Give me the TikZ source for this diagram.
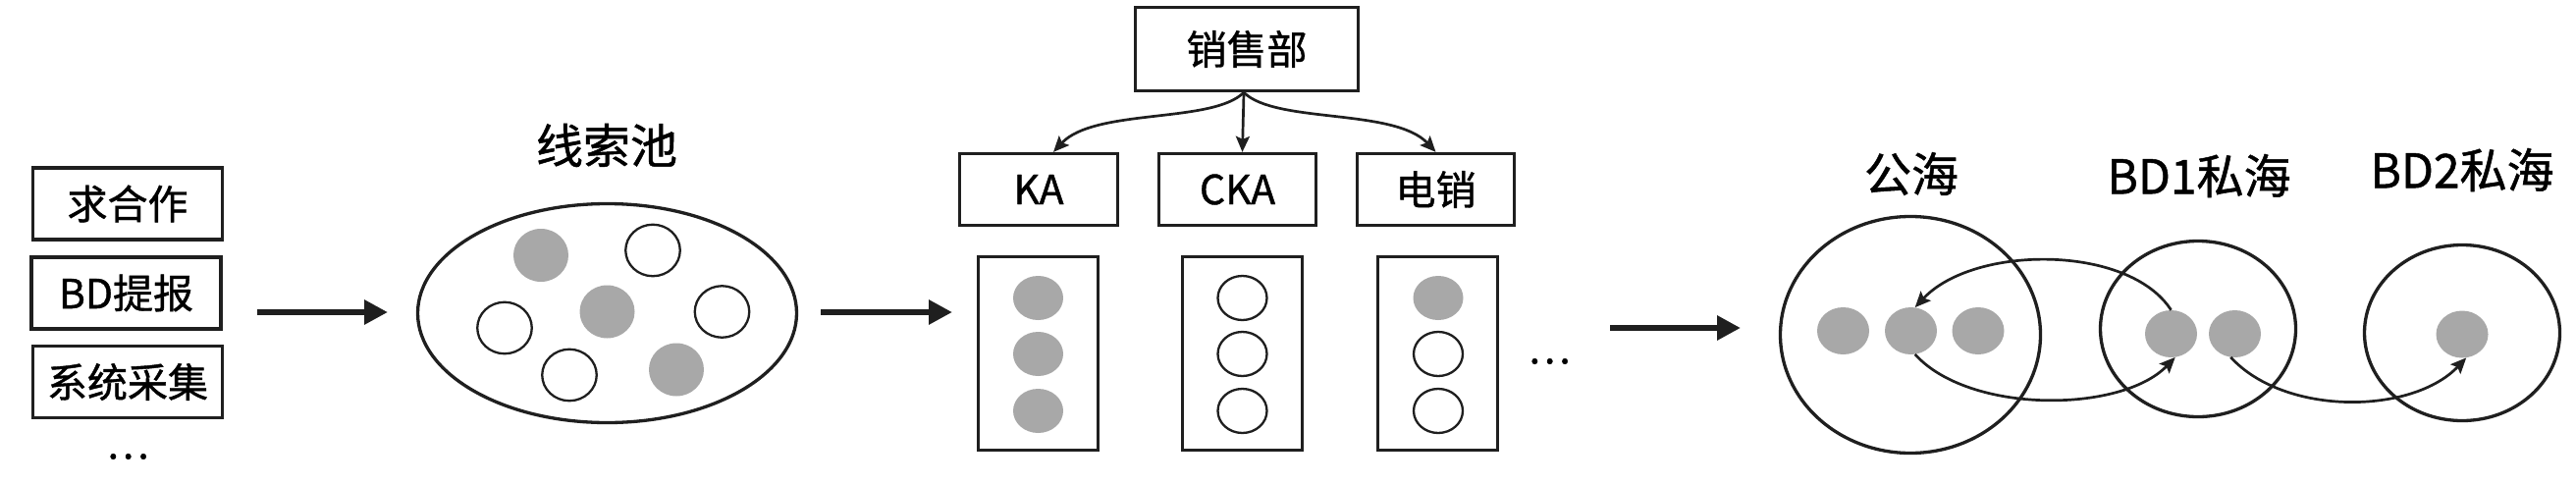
\documentclass[tikz,border=0pt]{standalone}
\usepackage{fontspec}
\setmainfont{Noto Sans CJK SC}[FakeBold=1.0]
\usetikzlibrary{arrows.meta,shapes.geometric}
\definecolor{ln}{HTML}{1F1F1F}
\definecolor{dotg}{HTML}{A8A8A8}
\begin{document}
\begin{tikzpicture}[x=1pt,y=-1pt,
  txt/.style={font=\fontsize{41}{48}\selectfont, inner sep=0pt},
  hdr/.style={font=\fontsize{48}{56}\selectfont, inner sep=0pt},
  srcbox/.style={draw=ln, line width=3.3pt, minimum width=193pt, minimum height=73pt, inner sep=0pt, font=\fontsize{41}{48}\selectfont},
  colbox/.style={draw=ln, line width=3.3pt, minimum width=122pt, minimum height=197pt, inner sep=0pt},
  pgray/.style={ellipse, fill=dotg, minimum width=56pt, minimum height=54pt, inner sep=0pt},
  pwhite/.style={ellipse, draw=ln, line width=2.3pt, minimum width=55.5pt, minimum height=52.5pt, inner sep=0pt},
  cgray/.style={ellipse, fill=dotg, minimum width=51pt, minimum height=45pt, inner sep=0pt},
  cwhite/.style={ellipse, draw=ln, line width=2.3pt, minimum width=50pt, minimum height=45pt, inner sep=0pt},
  sdot/.style={ellipse, fill=dotg, minimum width=53pt, minimum height=48pt, inner sep=0pt},
  sea/.style={ellipse, draw=ln, line width=3.3pt, inner sep=0pt},
  bigarrow/.style={draw=ln, line width=6.5pt, -{Triangle[length=24pt,width=24pt]}},
  thinarrow/.style={draw=ln, line width=2.7pt, -{Stealth[length=16pt,width=14pt,inset=3pt]}}
]
\fill[white] (0,0) rectangle (2624,493);
\useasboundingbox (0,0) rectangle (2624,493);

% sources
\node[srcbox] (s1) at (130,207.5) {求合作};
\node[srcbox] (s2) at (128.5,298.5) {BD提报};
\node[srcbox] (s3) at (130,389) {系统采集};
\node[txt] (d1) at (130,465) {…};

\coordinate (a1s) at (262,318);
\coordinate (a1e) at (395,318);
\draw[bigarrow] (a1s) -- (a1e);

% pool
\node[hdr] (pooll) at (618,148) {线索池};
\node[sea, minimum width=386pt, minimum height=223pt] (pool) at (618.5,319) {};
\node[pgray] (p1) at (551,260) {};
\node[pwhite] (p2) at (665,255) {};
\node[pwhite] (p3) at (514,334) {};
\node[pgray] (p4) at (618.5,317.5) {};
\node[pwhite] (p5) at (735.5,317.5) {};
\node[pwhite] (p6) at (580,382) {};
\node[pgray] (p7) at (689,376.5) {};

\coordinate (a2s) at (836,318);
\coordinate (a2e) at (970,318);
\draw[bigarrow] (a2s) -- (a2e);

% sales
\node[srcbox, minimum width=227pt, minimum height=85pt] (sales) at (1270,50) {销售部};
\node[srcbox, minimum width=161pt] (ka) at (1058,193) {KA};
\node[srcbox, minimum width=160pt] (cka) at (1260.5,193) {CKA};
\node[srcbox, minimum width=160pt] (dx) at (1462.5,193) {电销};

\draw[thinarrow] ([xshift=-3pt]sales.south) .. controls +(-32,32) and +(42,-45) .. ([xshift=15pt]ka.north);
\draw[thinarrow] ([xshift=-3pt]sales.south) -- ([xshift=5pt]cka.north);
\draw[thinarrow] ([xshift=-3pt]sales.south) .. controls +(32,32) and +(-42,-45) .. (dx.north);

\node[colbox] (c1) at (1057.5,360) {};
\node[colbox] (c2) at (1265.5,360) {};
\node[colbox] (c3) at (1464.5,360) {};
\node[cgray] (c1a) at (1057.5,303.5) {};
\node[cgray] (c1b) at (1057.5,360.5) {};
\node[cgray] (c1c) at (1057.5,418.5) {};
\node[cwhite] (c2a) at (1265.5,303.5) {};
\node[cwhite] (c2b) at (1265.5,360.5) {};
\node[cwhite] (c2c) at (1265.5,418.5) {};
\node[cgray] (c3a) at (1465,303.5) {};
\node[cwhite] (c3b) at (1465,360.5) {};
\node[cwhite] (c3c) at (1465,418.5) {};
\node[txt] (d2) at (1578,368) {…};

\coordinate (a3s) at (1640,334);
\coordinate (a3e) at (1773,334);
\draw[bigarrow] (a3s) -- (a3e);

% seas
\node[hdr] (publ) at (1947,177) {公海};
\node[hdr] (bd1l) at (2240,179) {BD1私海};
\node[hdr] (bd2l) at (2508,173) {BD2私海};
\node[sdot] (h1) at (1877.5,337) {};
\node[sdot] (h2) at (1946.5,337) {};
\node[sdot] (h3) at (2015,337) {};
\node[sdot] (b1) at (2211.5,340) {};
\node[sdot] (b2) at (2276.5,340) {};
\node[sdot] (e1) at (2508,340.5) {};
\node[sea, minimum width=265pt, minimum height=241pt] (pub) at (1946,341) {};
\node[sea, minimum width=199pt, minimum height=179pt] (bd1) at (2239,335) {};
\node[sea, minimum width=199pt, minimum height=179pt] (bd2) at (2508,339) {};

\draw[thinarrow] (b1.north) .. controls +(-43,-67) and +(60,-64) .. (h2.80);
\draw[thinarrow] (h2.-80) .. controls +(55,61) and +(-55,57) .. (b1.-80);
\draw[thinarrow] (b2.-100) .. controls +(55,60) and +(-55,58) .. (e1.-80);
\end{tikzpicture}
\end{document}
